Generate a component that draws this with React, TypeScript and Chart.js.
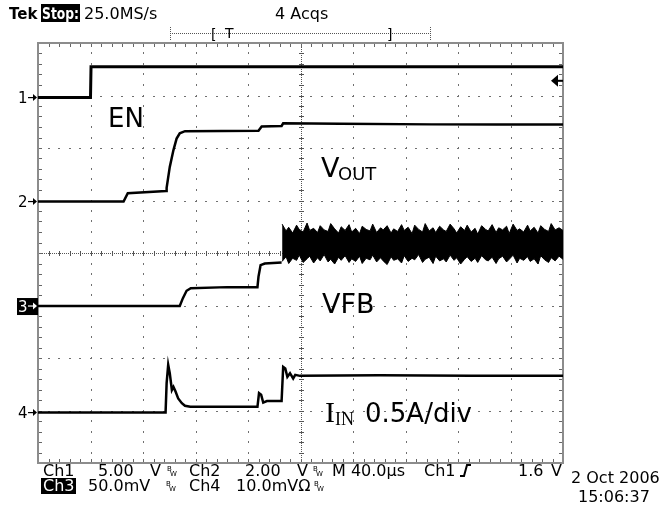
import React, { useEffect, useRef } from "react";
import { Chart, registerables } from "chart.js";

Chart.register(...registerables);

const W = 672;
const H = 506;

// Horizontal: time in µs (M 40.0µs/div, 10 divisions). Vertical: screen divisions (8 div).
const timeMax = 400;
const divMax = 8;

// Channel ground markers (divisions from bottom)
const ch1Ground = 6.96;
const ch2Ground = 4.98;
const ch3Ground = 2.99;
const ch4Ground = 0.96;
const ch1VoltsPerDiv = 5.0;
const triggerLevelV = 1.6;

// CH1: EN
const enTime = [0, 40, 40.4, 400];
const enDiv = [6.96, 6.96, 7.55, 7.55];

// CH2: VOUT
const voutTime = [0, 65.2, 68.4, 97.6, 98, 100.4, 103.2, 105.6, 108, 112, 168, 170.4, 185.6, 186.8, 230, 300, 350, 400];
const voutDiv = [4.98, 4.98, 5.14, 5.18, 5.24, 5.64, 5.96, 6.18, 6.28, 6.32, 6.33, 6.41, 6.42, 6.47, 6.46, 6.45, 6.45, 6.45];

// CH3: VFB (before switching starts)
const vfbTime = [0, 108, 110.4, 113.2, 116.4, 144, 167.2, 168, 169.6, 172.8, 185.6];
const vfbDiv = [2.99, 2.99, 3.14, 3.28, 3.33, 3.35, 3.35, 3.55, 3.77, 3.8, 3.82];

// CH3: VFB switching ripple band (upper / lower envelope)
const rippleTime = [
  186, 189, 191, 194, 197, 199, 202, 205, 207, 210,
  213, 215, 218, 221, 223, 226, 229, 231, 234, 237,
  239, 242, 245, 247, 250, 253, 255, 258, 261, 263,
  266, 269, 271, 274, 277, 279, 282, 285, 287, 290,
  293, 295, 298, 301, 303, 306, 309, 311, 314, 317,
  319, 322, 325, 327, 330, 333, 335, 338, 341, 343,
  346, 349, 351, 354, 357, 359, 362, 365, 367, 370,
  373, 375, 378, 381, 383, 386, 389, 391, 394, 397,
  400,
];
const rippleUpper = [
  4.55, 4.42, 4.49, 4.38, 4.53, 4.45, 4.4, 4.57, 4.43, 4.47,
  4.39, 4.52, 4.44, 4.41, 4.56, 4.46, 4.38, 4.5, 4.43, 4.54,
  4.4, 4.47, 4.37, 4.51, 4.45, 4.42, 4.55, 4.39, 4.48, 4.44,
  4.52, 4.38, 4.46, 4.41, 4.54, 4.43, 4.49, 4.37, 4.53, 4.45,
  4.4, 4.56, 4.42, 4.48, 4.39, 4.51, 4.44, 4.41, 4.55, 4.46,
  4.38, 4.5, 4.43, 4.53, 4.4, 4.47, 4.36, 4.52, 4.45, 4.42,
  4.54, 4.39, 4.48, 4.44, 4.51, 4.37, 4.55, 4.43, 4.46, 4.4,
  4.53, 4.42, 4.49, 4.38, 4.52, 4.45, 4.41, 4.56, 4.44, 4.48,
  4.43,
];
const rippleLower = [
  3.84, 3.93, 3.8, 3.9, 3.86, 3.96, 3.82, 3.89, 3.94, 3.81,
  3.91, 3.85, 3.97, 3.83, 3.88, 3.79, 3.92, 3.86, 3.95, 3.82,
  3.89, 3.84, 3.94, 3.8, 3.9, 3.87, 3.96, 3.83, 3.91, 3.85,
  3.78, 3.93, 3.86, 3.89, 3.81, 3.95, 3.84, 3.9, 3.87, 3.97,
  3.82, 3.88, 3.92, 3.8, 3.94, 3.85, 3.89, 3.83, 3.96, 3.86,
  3.91, 3.79, 3.88, 3.93, 3.84, 3.9, 3.82, 3.95, 3.87, 3.85,
  3.92, 3.8, 3.89, 3.94, 3.83, 3.88, 3.96, 3.81, 3.9, 3.86,
  3.93, 3.84, 3.89, 3.79, 3.95, 3.87, 3.82, 3.91, 3.85, 3.94,
  3.88,
];

// CH4: IIN
const iinTime = [0, 97.2, 98, 99.2, 100.4, 102, 103.2, 104.8, 106.8, 109.6, 112, 116, 167.2, 168.4, 170, 171.6, 174.4, 185.6, 186.8, 188.4, 190, 192, 194.4, 196, 199.6, 260, 330, 400];
const iinDiv = [0.96, 0.96, 1.52, 1.87, 1.71, 1.39, 1.45, 1.36, 1.23, 1.14, 1.09, 1.07, 1.07, 1.33, 1.3, 1.15, 1.18, 1.18, 1.83, 1.8, 1.64, 1.71, 1.61, 1.68, 1.66, 1.67, 1.66, 1.66];

const pts = (t: number[], v: number[]) => t.map((x, i) => ({ x, y: v[i] }));

const SANS = "'DejaVu Sans', sans-serif";
const SERIF = "'Liberation Serif', 'DejaVu Serif', serif";

function bw(ctx: CanvasRenderingContext2D, x: number, y: number) {
  ctx.save();
  ctx.font = `7px ${SANS}`;
  ctx.textAlign = "left";
  ctx.fillText("B", x, y - 5);
  ctx.fillText("W", x + 3, y);
  ctx.restore();
}

function arrow(ctx: CanvasRenderingContext2D, x0: number, x1: number, y: number) {
  ctx.lineWidth = 1.2;
  ctx.beginPath();
  ctx.moveTo(x0, y);
  ctx.lineTo(x1 - 3, y);
  ctx.stroke();
  ctx.beginPath();
  ctx.moveTo(x1, y);
  ctx.lineTo(x1 - 4, y - 3.5);
  ctx.lineTo(x1 - 4, y + 3.5);
  ctx.closePath();
  ctx.fill();
}

const scopePlugin = {
  id: "scope",
  beforeDraw(chart: any) {
    const { ctx } = chart;
    ctx.save();
    ctx.fillStyle = "#fff";
    ctx.fillRect(0, 0, W, H);
    ctx.restore();
  },
  beforeDatasetsDraw(chart: any) {
    const { ctx, chartArea: a, scales } = chart;
    const xs = scales.x;
    const ys = scales.y;
    ctx.save();
    // dotted graticule
    ctx.fillStyle = "#707070";
    for (let i = 1; i < 10; i++) {
      if (i === 5) continue;
      const px = Math.round(xs.getPixelForValue(i * 40));
      for (let j = 1; j < 40; j++) {
        const py = Math.round(ys.getPixelForValue(j * 0.2));
        ctx.fillRect(px, py - 1, 1, 2);
      }
    }
    for (let j = 1; j < 8; j++) {
      if (j === 4) continue;
      const py = Math.round(ys.getPixelForValue(j));
      for (let i = 1; i < 50; i++) {
        const px = Math.round(xs.getPixelForValue(i * 8));
        ctx.fillRect(px - 1, py, 2, 1);
      }
    }
    // center cross
    const cx = Math.round(xs.getPixelForValue(200));
    const cy = Math.round(ys.getPixelForValue(4));
    ctx.fillStyle = "#555";
    for (let x = a.left; x < a.right; x += 2) ctx.fillRect(x, cy, 1, 1);
    for (let y = a.top; y < a.bottom; y += 2) ctx.fillRect(cx, y, 1, 1);
    for (let i = 1; i < 50; i++) {
      const px = Math.round(xs.getPixelForValue(i * 8));
      ctx.fillRect(px, cy - 2, 1, 5);
    }
    for (let j = 1; j < 40; j++) {
      const py = Math.round(ys.getPixelForValue(j * 0.2));
      ctx.fillRect(cx - 2, py, 5, 1);
    }
    // border ticks
    ctx.fillStyle = "#666";
    for (let i = 1; i < 50; i++) {
      const px = Math.round(xs.getPixelForValue(i * 8));
      ctx.fillRect(px, a.top + 1, 1, 3);
      ctx.fillRect(px, a.bottom - 4, 1, 3);
    }
    for (let j = 1; j < 40; j++) {
      const py = Math.round(ys.getPixelForValue(j * 0.2));
      ctx.fillRect(a.left + 1, py, 3, 1);
      ctx.fillRect(a.right - 4, py, 3, 1);
    }
    // border
    ctx.strokeStyle = "#8c8c8c";
    ctx.lineWidth = 2;
    ctx.strokeRect(a.left, a.top, a.right - a.left, a.bottom - a.top);
    ctx.restore();
  },
  afterDraw(chart: any) {
    const { ctx, chartArea: a, scales } = chart;
    const ys = scales.y;
    ctx.save();
    ctx.fillStyle = "#000";
    ctx.strokeStyle = "#000";
    ctx.textBaseline = "alphabetic";
    ctx.textAlign = "left";

    // header
    ctx.font = `bold 15px ${SANS}`;
    ctx.fillText("Tek", 9, 19, 31);
    ctx.fillRect(41, 4, 39, 18);
    ctx.fillStyle = "#fff";
    ctx.fillText("Stop:", 42, 19, 37);
    ctx.fillStyle = "#000";
    ctx.font = `16px ${SANS}`;
    ctx.fillText("25.0MS/s", 84, 19);
    ctx.fillText("4 Acqs", 275, 19);

    // record bar
    ctx.fillStyle = "#555";
    for (let x = 170; x <= 430; x += 2) ctx.fillRect(x, 33, 1, 1);
    for (let y = 27; y <= 40; y += 2) {
      ctx.fillRect(170, y, 1, 1);
      ctx.fillRect(430, y, 1, 1);
    }
    ctx.fillStyle = "#000";
    ctx.font = `14px ${SANS}`;
    ctx.fillText("[", 211, 39);
    ctx.fillText("T", 225, 38);
    ctx.fillText("]", 387, 39);

    // channel markers
    ctx.font = `15px ${SANS}`;
    const marks = [
      ["1", ch1Ground],
      ["2", ch2Ground],
      ["4", ch4Ground],
    ] as [string, number][];
    for (const [lab, g] of marks) {
      const py = ys.getPixelForValue(g);
      ctx.fillText(lab, 18, py + 5.5);
      arrow(ctx, 28, 37, py);
    }
    {
      const py = ys.getPixelForValue(ch3Ground);
      ctx.fillRect(17, py - 8, 21, 17);
      ctx.fillStyle = "#fff";
      ctx.strokeStyle = "#fff";
      ctx.fillText("3", 18, py + 5.5);
      arrow(ctx, 28, 37, py);
      ctx.fillStyle = "#000";
      ctx.strokeStyle = "#000";
    }
    // trigger level marker (right)
    {
      const py = ys.getPixelForValue(ch1Ground + triggerLevelV / ch1VoltsPerDiv);
      ctx.beginPath();
      ctx.moveTo(a.right - 12, py);
      ctx.lineTo(a.right - 5, py - 6);
      ctx.lineTo(a.right - 5, py + 6);
      ctx.closePath();
      ctx.fill();
      ctx.fillRect(a.right - 6, py - 1, 6, 2);
    }

    // trace labels
    ctx.font = `26px ${SANS}`;
    ctx.fillText("EN", 108, 127);
    ctx.font = `27px ${SANS}`;
    ctx.fillText("V", 321, 177);
    ctx.font = `18px ${SANS}`;
    ctx.fillText("OUT", 338, 180);
    ctx.font = `27px ${SANS}`;
    ctx.fillText("VFB", 322, 313);
    ctx.font = `30px ${SERIF}`;
    ctx.fillText("I", 325, 422);
    ctx.font = `18px ${SERIF}`;
    ctx.fillText("IN", 335, 425);
    ctx.font = `26px ${SANS}`;
    ctx.fillText("0.5A/div", 365, 422);

    // footer line 1
    const y1 = 476;
    const y2 = 491;
    ctx.font = `16px ${SANS}`;
    ctx.fillText("Ch1", 43, y1);
    ctx.fillText("5.00", 98, y1);
    ctx.fillText("V", 150, y1);
    bw(ctx, 167, y1);
    ctx.fillText("Ch2", 189, y1);
    ctx.fillText("2.00", 245, y1);
    ctx.fillText("V", 297, y1);
    bw(ctx, 313, y1);
    ctx.fillText("M 40.0µs", 332, y1);
    ctx.fillText("Ch1", 424, y1);
    // rising edge symbol
    ctx.lineWidth = 2;
    ctx.beginPath();
    ctx.moveTo(460, y1);
    ctx.lineTo(464, y1);
    ctx.lineTo(467, y1 - 11);
    ctx.lineTo(471, y1 - 11);
    ctx.stroke();
    ctx.fillText("1.6", 518, y1);
    ctx.fillText("V", 551, y1);
    ctx.fillText("2 Oct 2006", 571, y1 + 7);

    // footer line 2
    ctx.fillRect(41, y2 - 13, 35, 16);
    ctx.fillStyle = "#fff";
    ctx.fillText("Ch3", 43, y2, 32);
    ctx.fillStyle = "#000";
    ctx.fillText("50.0mV", 88, y2);
    bw(ctx, 166, y2);
    ctx.fillText("Ch4", 189, y2);
    ctx.fillText("10.0mVΩ", 236, y2);
    bw(ctx, 314, y2);
    ctx.fillText("15:06:37", 578, y2 + 11);
    ctx.restore();
  },
};

export default function App() {
  const ref = useRef<HTMLCanvasElement | null>(null);
  useEffect(() => {
    if (!ref.current) return;
    const line = (data: any[], extra: any = {}) => ({
      data,
      borderColor: "#000",
      backgroundColor: "#000",
      borderWidth: 2.5,
      pointRadius: 0,
      tension: 0,
      fill: false,
      ...extra,
    });
    const chart = new Chart(ref.current, {
      type: "line",
      data: {
        datasets: [
          line(pts(enTime, enDiv), { borderWidth: 3 }),
          line(pts(voutTime, voutDiv)),
          line(pts(vfbTime, vfbDiv)),
          line(pts(rippleTime, rippleUpper), { borderWidth: 1, fill: "+1" }),
          line(pts(rippleTime, rippleLower), { borderWidth: 1 }),
          line(pts(iinTime, iinDiv)),
        ],
      },
      options: {
        animation: false,
        responsive: false,
        devicePixelRatio: 1,
        events: [],
        layout: { padding: { left: 38, right: 109, top: 43, bottom: 43 } },
        plugins: {
          legend: { display: false },
          tooltip: { enabled: false },
          title: { display: false },
        },
        scales: {
          x: { type: "linear", min: 0, max: timeMax, display: false },
          y: { type: "linear", min: 0, max: divMax, display: false },
        },
      },
      plugins: [scopePlugin],
    });
    return () => chart.destroy();
  }, []);
  return (
    <div style={{ position: "fixed", left: 0, top: 0, width: W, height: H, background: "#fff" }}>
      <canvas ref={ref} width={W} height={H} style={{ display: "block" }} />
    </div>
  );
}
